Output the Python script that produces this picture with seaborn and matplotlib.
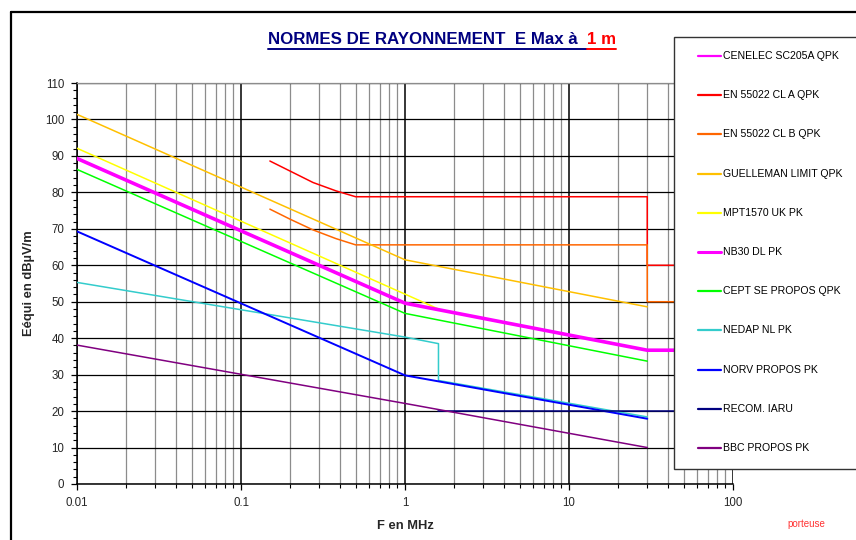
import matplotlib
matplotlib.use("Agg")
import matplotlib.pyplot as plt
import matplotlib.ticker as mticker
from matplotlib.lines import Line2D
from matplotlib.patches import Rectangle
import numpy as np
import pandas as pd
import seaborn as sns

# ---- limit curves (frequency in MHz, level in dBuV/m at 1 m) ----
cenelec_f = [0.01, 1.0]
cenelec_db = [89.3, 49.6]

en_a_f = [0.15, 0.2, 0.275, 0.38, 0.5, 30, 30, 100]
en_a_db = [88.6, 85.8, 82.7, 80.4, 78.8, 78.8, 60.0, 60.0]

en_b_f = [0.15, 0.2, 0.275, 0.38, 0.5, 30, 30, 100]
en_b_db = [75.4, 72.6, 69.7, 67.3, 65.6, 65.6, 50.0, 50.0]

guelleman_f = [0.01, 1.0, 30]
guelleman_db = [101.4, 61.5, 48.6]

mpt_f = [0.01, 1.6]
mpt_db = [92.1, 48.0]

nb30_f = [0.01, 1.0, 30, 100]
nb30_db = [89.3, 49.6, 36.7, 36.7]

cept_f = [0.01, 1.0, 30]
cept_db = [86.3, 46.8, 33.7]

nedap_f = [0.01, 1.0, 1.6, 1.6, 30]
nedap_db = [55.3, 40.3, 38.5, 28.4, 18.4]

norv_f = [0.01, 1.0, 30]
norv_db = [69.3, 29.8, 17.9]

iaru_f = [1.6, 100]
iaru_db = [20.0, 20.0]

bbc_f = [0.01, 1.0, 30]
bbc_db = [38.1, 22.1, 10.0]

series_names = [
    "CENELEC SC205A QPK", "EN 55022 CL A QPK", "EN 55022 CL B QPK",
    "GUELLEMAN LIMIT QPK", "MPT1570 UK PK", "NB30 DL PK",
    "CEPT SE PROPOS QPK", "NEDAP NL PK", "NORV PROPOS PK",
    "RECOM. IARU", "BBC PROPOS PK",
]
series_data = [
    (cenelec_f, cenelec_db), (en_a_f, en_a_db), (en_b_f, en_b_db),
    (guelleman_f, guelleman_db), (mpt_f, mpt_db), (nb30_f, nb30_db),
    (cept_f, cept_db), (nedap_f, nedap_db), (norv_f, norv_db),
    (iaru_f, iaru_db), (bbc_f, bbc_db),
]
series_colors = [
    "#FF00FF", "#FF0000", "#FF6600", "#FFC000", "#FFFF00", "#FF00FF",
    "#00FF00", "#33CCCC", "#0000FF", "#000080", "#800080",
]
series_widths = [1.1, 1.1, 1.1, 1.1, 1.1, 2.6, 1.1, 1.1, 1.4, 1.1, 1.1]

x_ticks = [0.01, 0.1, 1, 10, 100]
x_ticklabels = ["0.01", "0.1", "1", "10", "100"]
y_ticks = list(range(0, 111, 10))

rows = []
for name, (f, db) in zip(series_names, series_data):
    for i, (fi, di) in enumerate(zip(f, db)):
        rows.append({"serie": name, "ordre": i, "freq": fi, "niveau": di})
df = pd.DataFrame(rows)

sns.set_theme(style="white")
plt.rcParams["font.family"] = ["Liberation Sans", "DejaVu Sans"]

W, H = 856, 540
fig = plt.figure(figsize=(W / 100, H / 100), dpi=100)
fig.patch.set_facecolor("white")


def fx(px):
    return px / W


def fy(py):
    return 1 - py / H


ax = fig.add_axes([fx(77), fy(484), fx(733) - fx(77), fy(83) - fy(484)])

for name, color, lw in zip(series_names, series_colors, series_widths):
    sub = df[df["serie"] == name].sort_values("ordre")
    sns.lineplot(data=sub, x="freq", y="niveau", sort=False, estimator=None,
                 color=color, linewidth=lw, ax=ax, legend=False, zorder=3)

ax.set_xscale("log")
ax.set_xlim(0.01, 100)
ax.set_ylim(0, 110)
ax.set_xticks(x_ticks)
ax.set_xticklabels(x_ticklabels)
ax.xaxis.set_minor_locator(mticker.LogLocator(base=10, subs=np.arange(2, 10)))
ax.xaxis.set_minor_formatter(mticker.NullFormatter())
ax.set_yticks(y_ticks)
ax.yaxis.set_minor_locator(mticker.MultipleLocator(2))

ax.grid(which="major", axis="y", color="black", linewidth=0.9, zorder=1)
ax.grid(which="major", axis="x", color="black", linewidth=1.1, zorder=1)
ax.grid(which="minor", axis="x", color="#8c8c8c", linewidth=0.9, zorder=1)
ax.set_axisbelow(True)

ax.tick_params(axis="both", which="major", direction="out", length=4,
               width=0.9, color="black", labelsize=8.3, pad=5, left=True,
               bottom=True)
ax.tick_params(axis="x", which="major", pad=5)
ax.tick_params(axis="both", which="minor", direction="out", length=3,
               width=0.8, color="black", left=True, bottom=True)

for side in ["left", "bottom"]:
    ax.spines[side].set_color("black")
    ax.spines[side].set_linewidth(1.1)
ax.spines["top"].set_color("#8c8c8c")
ax.spines["top"].set_linewidth(0.9)
ax.spines["right"].set_visible(False)

ax.set_xlabel("F en MHz", fontsize=9.3, fontweight="bold", labelpad=8)
ax.set_ylabel("Eéqui en dBµV/m", fontsize=9.3, fontweight="bold", labelpad=7)

# frame around the chart area
fig.add_artist(Line2D([fx(11), fx(11)], [fy(12), fy(545)], color="black",
                      linewidth=1.6, transform=fig.transFigure))
fig.add_artist(Line2D([fx(11), fx(860)], [fy(12), fy(12)], color="black",
                      linewidth=1.6, transform=fig.transFigure))

# legend panel
fig.add_artist(Rectangle((fx(674), fy(469)), fx(900) - fx(674),
                         fy(37) - fy(469), facecolor="white",
                         edgecolor="#333333", linewidth=1.0,
                         transform=fig.transFigure, zorder=10))
for i, (name, color) in enumerate(zip(series_names, series_colors)):
    yy = fy(56 + 39.2 * i)
    lw = 1.6 if name != "NB30 DL PK" else 2.2
    fig.add_artist(Line2D([fx(698), fx(721)], [yy, yy], color=color,
                          linewidth=lw, transform=fig.transFigure, zorder=11))
    fig.text(fx(723), yy, name, fontsize=7.6, va="center", ha="left",
             color="black", zorder=12)

# title with underlined parts
t1 = fig.text(fx(268), fy(40), "NORMES DE RAYONNEMENT  E Max à  ",
              fontsize=12.2, fontweight="bold", color="#000080",
              va="center", ha="left")
fig.canvas.draw()
r = fig.canvas.get_renderer()
bb1 = t1.get_window_extent(renderer=r)
t2 = fig.text(bb1.x1 / W, fy(40), "1 m", fontsize=12.2, fontweight="bold",
              color="#FF0000", va="center", ha="left")
fig.canvas.draw()
bb2 = t2.get_window_extent(renderer=r)
uy = fy(48.5)
fig.add_artist(Line2D([bb1.x0 / W, bb1.x1 / W], [uy, uy], color="#000080",
                      linewidth=1.4, transform=fig.transFigure))
fig.add_artist(Line2D([bb2.x0 / W, bb2.x1 / W], [uy, uy], color="#FF0000",
                      linewidth=1.4, transform=fig.transFigure))

fig.text(fx(806), fy(524), "porteuse", fontsize=7, color="#FF3333",
         ha="center", va="center")

fig.savefig("out.png", dpi=100)
